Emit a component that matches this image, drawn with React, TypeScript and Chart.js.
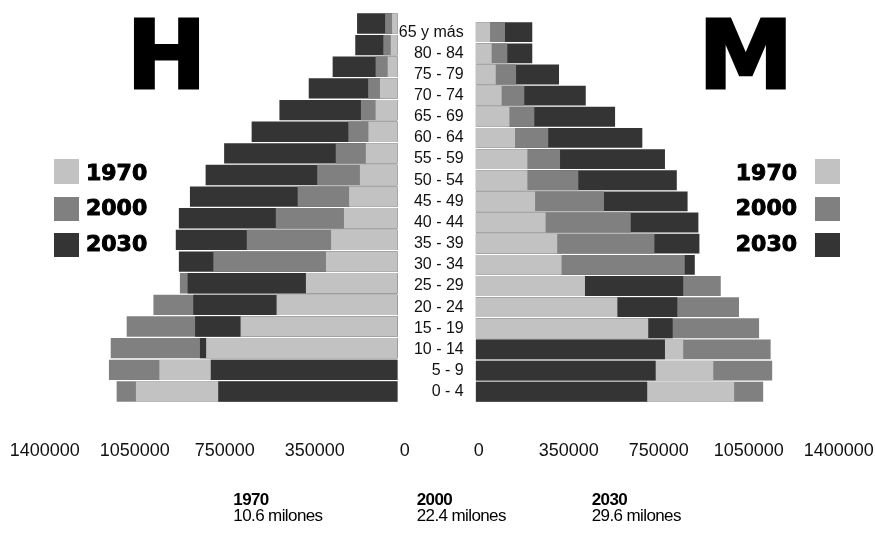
import React, { useEffect, useRef } from "react";
import { Chart, registerables } from "chart.js";

Chart.register(...registerables);

// ---------- data ----------
const AGE_GROUPS = [
  "65 y más", "80 - 84", "75 - 79", "70 - 74", "65 - 69", "60 - 64",
  "55 - 59", "50 - 54", "45 - 49", "40 - 44", "35 - 39", "30 - 34",
  "25 - 29", "20 - 24", "15 - 19", "10 - 14", "5 - 9", "0 - 4",
];
const YEARS = ["1970", "2000", "2030"];
const YEAR_COLORS = ["#c2c2c2", "#808080", "#343434"];

const MEN_1970 = [22000, 27000, 39000, 69000, 86000, 114000, 124000, 147000, 189000, 209000, 259000, 279000, 357000, 471000, 611000, 745000, 927000, 1018000];
const MEN_2000 = [49000, 56000, 86000, 115000, 143000, 192000, 241000, 313000, 389000, 474000, 587000, 717000, 847000, 950000, 1054000, 1116000, 1123000, 1093000];
const MEN_2030 = [158000, 165000, 253000, 346000, 460000, 568000, 675000, 747000, 808000, 851000, 863000, 851000, 817000, 795000, 788000, 769000, 727000, 698000];

const WOMEN_1970 = [56000, 62000, 78000, 101000, 131000, 153000, 201000, 201000, 231000, 272000, 317000, 334000, 425000, 551000, 671000, 807000, 924000, 1005000];
const WOMEN_2000 = [114000, 123000, 157000, 189000, 228000, 282000, 328000, 399000, 499000, 603000, 695000, 813000, 953000, 1024000, 1102000, 1147000, 1153000, 1118000];
const WOMEN_2030 = [220000, 220000, 324000, 428000, 542000, 648000, 736000, 782000, 824000, 866000, 870000, 852000, 807000, 784000, 766000, 736000, 700000, 667000];

const AXIS_TICK_VALUES = [0, 350000, 700000, 1050000, 1400000];
const AXIS_TICK_LABELS = ["0", "350000", "750000", "1050000", "1400000"];
const AXIS_MAX = 1400000;

const TOTALS = ["10.6 milones", "22.4 milones", "29.6 milones"];

// ---------- helpers ----------
// Overlapping bars: in every age group the shortest bar is drawn in front.
function buildLayers(series: number[][]) {
  const layers = [0, 1, 2].map(() => ({ data: [] as number[], colors: [] as string[] }));
  AGE_GROUPS.forEach((_, i) => {
    const items = series
      .map((s, k) => ({ v: s[i], c: YEAR_COLORS[k] }))
      .sort((a, b) => a.v - b.v);
    items.forEach((it, layer) => {
      layers[layer].data.push(it.v);
      layers[layer].colors.push(it.c);
    });
  });
  return layers.map((l, idx) => ({
    label: "layer" + idx,
    data: l.data,
    backgroundColor: l.colors,
    borderWidth: 0,
    grouped: false,
    categoryPercentage: 1,
    barPercentage: 0.94,
    order: idx,
  }));
}

const FONT = "'Liberation Sans', Arial, sans-serif";
const CANVAS_H = 533;
const AREA_TOP = 12.65;
const AREA_BOTTOM = 402.3;

function xScale(reverse: boolean, labelOffset: number) {
  return {
    type: "linear" as const,
    reverse,
    min: 0,
    max: AXIS_MAX,
    grid: { display: false, drawTicks: true, tickLength: 38 },
    border: { display: false },
    afterBuildTicks: (s: any) => {
      s.ticks = AXIS_TICK_VALUES.map((v) => ({ value: v }));
    },
    afterFit: (s: any) => {
      s.height = CANVAS_H - AREA_BOTTOM;
    },
    ticks: {
      padding: 0,
      labelOffset,
      autoSkip: false,
      maxRotation: 0,
      color: "#111",
      font: { family: FONT, size: 18 },
      callback: (_v: any, i: number) => AXIS_TICK_LABELS[i],
    },
  };
}

function PyramidSide({ side }: { side: "left" | "right" }) {
  const ref = useRef<HTMLCanvasElement | null>(null);
  const width = side === "left" ? 434 : 477;
  useEffect(() => {
    if (!ref.current) return;
    const series = side === "left" ? [MEN_1970, MEN_2000, MEN_2030] : [WOMEN_1970, WOMEN_2000, WOMEN_2030];
    const chart = new Chart(ref.current, {
      type: "bar",
      data: { labels: AGE_GROUPS, datasets: buildLayers(series) as any },
      options: {
        indexAxis: "y",
        animation: false,
        responsive: false,
        maintainAspectRatio: false,
        events: [],
        layout: {
          padding:
            side === "left"
              ? { left: 37.7, right: width - 397.7, top: AREA_TOP, bottom: 0 }
              : { left: 0, right: width - 437.7, top: AREA_TOP, bottom: 0 },
        },
        plugins: { legend: { display: false }, tooltip: { enabled: false } },
        scales: {
          x: xScale(side === "left", side === "left" ? 7 : 3) as any,
          y:
            side === "left"
              ? { type: "category", display: false }
              : ({
                  type: "category",
                  grid: { display: false, drawTicks: false },
                  border: { display: false },
                  afterFit: (s: any) => {
                    s.width = 77.7;
                  },
                  ticks: {
                    crossAlign: "near",
                    padding: 12,
                    autoSkip: false,
                    color: "#111",
                    font: { family: FONT, size: 16 },
                  },
                } as any),
        },
      },
    });
    return () => chart.destroy();
  }, [side]);
  return (
    <canvas
      ref={ref}
      width={width}
      height={CANVAS_H}
      style={{ position: "absolute", top: 0, left: side === "left" ? 0 : 398, width, height: CANVAS_H }}
    />
  );
}

const heavy: React.CSSProperties = {
  position: "absolute",
  fontFamily: "'DejaVu Sans', sans-serif",
  fontWeight: 700,
  color: "#000",
  lineHeight: 1,
  whiteSpace: "nowrap",
};

const LEGEND_TOPS = [159.3, 196.5, 232.5];
const LEGEND_TEXT_TOPS = [161.7, 197.0, 233.0];

export default function App() {
  useEffect(() => {
    document.body.style.margin = "0";
  }, []);
  return (
    <div style={{ position: "fixed", left: 0, top: 0, width: 875, height: 533, background: "#fff", overflow: "hidden" }}>
      <PyramidSide side="left" />
      <PyramidSide side="right" />

      <div style={{ ...heavy, fontSize: 95, left: 116.5, width: 100, top: 8.4, textAlign: "center", WebkitTextStroke: "3px #000" }}>H</div>
      <div style={{ ...heavy, fontSize: 95, left: 695.8, width: 100, top: 8.4, textAlign: "center", WebkitTextStroke: "3px #000" }}>M</div>

      {YEARS.map((y, k) => (
        <React.Fragment key={y}>
          <div style={{ position: "absolute", left: 54.3, top: LEGEND_TOPS[k], width: 24.7, height: 24.5, background: YEAR_COLORS[k] }} />
          <div style={{ ...heavy, fontSize: 22, left: 86, top: LEGEND_TEXT_TOPS[k], WebkitTextStroke: "1px #000" }}>{y}</div>
          <div style={{ ...heavy, fontSize: 22, left: 697, width: 100, textAlign: "right", top: LEGEND_TEXT_TOPS[k], WebkitTextStroke: "1px #000" }}>{y}</div>
          <div style={{ position: "absolute", left: 815, top: LEGEND_TOPS[k], width: 24.5, height: 24.5, background: YEAR_COLORS[k] }} />
        </React.Fragment>
      ))}

      {YEARS.map((y, k) => {
        const left = [233.3, 416.7, 591.7][k];
        return (
          <React.Fragment key={"t" + y}>
            <div style={{ position: "absolute", left, top: 490.5, fontFamily: FONT, fontWeight: 700, fontSize: 17, lineHeight: 1, color: "#000", letterSpacing: -0.6, whiteSpace: "nowrap" }}>{y}</div>
            <div style={{ position: "absolute", left, top: 506.8, fontFamily: FONT, fontSize: 17, lineHeight: 1, color: "#000", letterSpacing: -0.6, whiteSpace: "nowrap" }}>{TOTALS[k]}</div>
          </React.Fragment>
        );
      })}
    </div>
  );
}
